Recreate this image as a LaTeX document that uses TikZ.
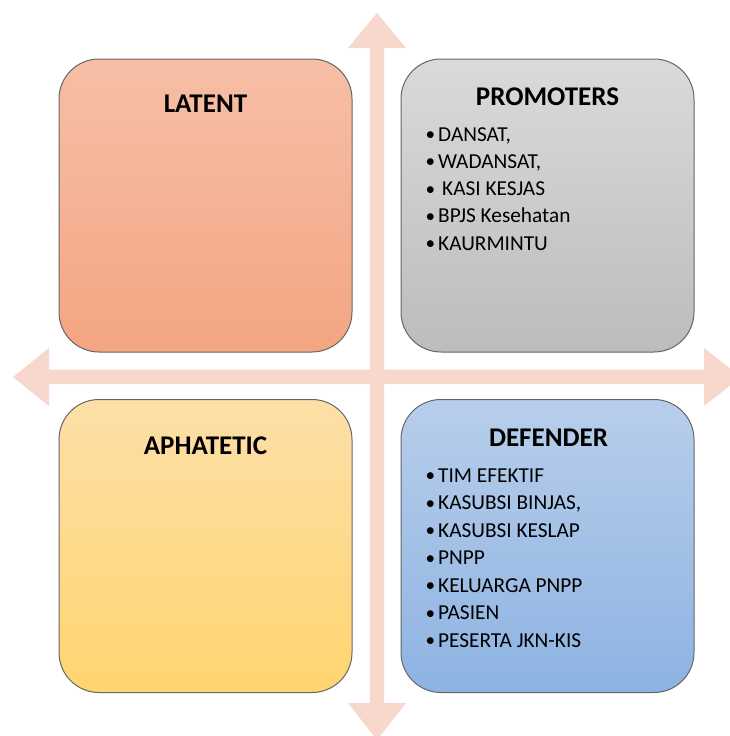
\documentclass[tikz,border=0pt]{standalone}
\usepackage{fontspec}
\setmainfont{Carlito}
\definecolor{arrowpink}{HTML}{F8D7CD}
\definecolor{edgegray}{HTML}{666666}
\definecolor{latTop}{HTML}{F6BFA6}
\definecolor{latBot}{HTML}{F4A582}
\definecolor{proTop}{HTML}{DADADA}
\definecolor{proBot}{HTML}{BCBCBC}
\definecolor{aphTop}{HTML}{FDDFA8}
\definecolor{aphBot}{HTML}{FFD56F}
\definecolor{defTop}{HTML}{B8CEEB}
\definecolor{defBot}{HTML}{8DB3E2}
\tikzset{
  quad/.style={draw=edgegray, line width=1pt, rounded corners=40pt, minimum width=293pt, minimum height=293pt, inner sep=0pt},
  title/.style={anchor=base, inner sep=0pt, font=\fontsize{27}{32}\selectfont\bfseries},
  item/.style={anchor=base west, inner sep=0pt, font=\fontsize{21.3}{27}\selectfont}
}
\newcommand{\bul}{\makebox[12.5pt][l]{\raisebox{0.5pt}{\scalebox{0.9}{•}}}}
\begin{document}
\begin{tikzpicture}[x=1pt,y=-1pt]
\useasboundingbox (0,0) rectangle (730,736);
\clip (0,0) rectangle (730,736);
% cross arrows
\fill[arrowpink] (377,13) -- (406,48) -- (384,48) -- (384,703) -- (406,703) -- (377,740) -- (348,703) -- (370,703) -- (370,48) -- (348,48) -- cycle;
\fill[arrowpink] (13,377) -- (49,348) -- (49,369.5) -- (704,369.5) -- (704,348) -- (741,377) -- (704,406) -- (704,384) -- (49,384) -- (49,406) -- cycle;
% boxes
\node[quad, top color=latTop, bottom color=latBot] (latent) at (205.5,205.5) {};
\node[quad, top color=proTop, bottom color=proBot] (promoters) at (547.5,205.5) {};
\node[quad, top color=aphTop, bottom color=aphBot] (aphatetic) at (205.5,546) {};
\node[quad, top color=defTop, bottom color=defBot] (defender) at (547.5,546) {};
% titles
\node[title] (tlat) at (205.5,112) {LATENT};
\node[title] (tpro) at (547.5,105) {PROMOTERS};
\node[title] (taph) at (205.5,454) {APHATETIC};
\node[title] (tdef) at (548.5,446) {DEFENDER};
% promoters list
\node[item] (p1) at (425.5,141) {\bul DANSAT,};
\node[item] (p2) at (425.5,168.3) {\bul WADANSAT,};
\node[item] (p3) at (425.5,195.6) {\bul\hspace{4pt}KASI KESJAS};
\node[item] (p4) at (425.5,222.9) {\bul BPJS Kesehatan};
\node[item] (p5) at (425.5,250.2) {\bul KAURMINTU};
% defender list
\node[item] (d1) at (425.5,482) {\bul TIM EFEKTIF};
\node[item] (d2) at (425.5,509.5) {\bul KASUBSI BINJAS,};
\node[item] (d3) at (425.5,537) {\bul KASUBSI KESLAP};
\node[item] (d4) at (425.5,564.5) {\bul PNPP};
\node[item] (d5) at (425.5,592) {\bul KELUARGA PNPP};
\node[item] (d6) at (425.5,619.5) {\bul PASIEN};
\node[item] (d7) at (425.5,647) {\bul PESERTA JKN-KIS};
\end{tikzpicture}
\end{document}
